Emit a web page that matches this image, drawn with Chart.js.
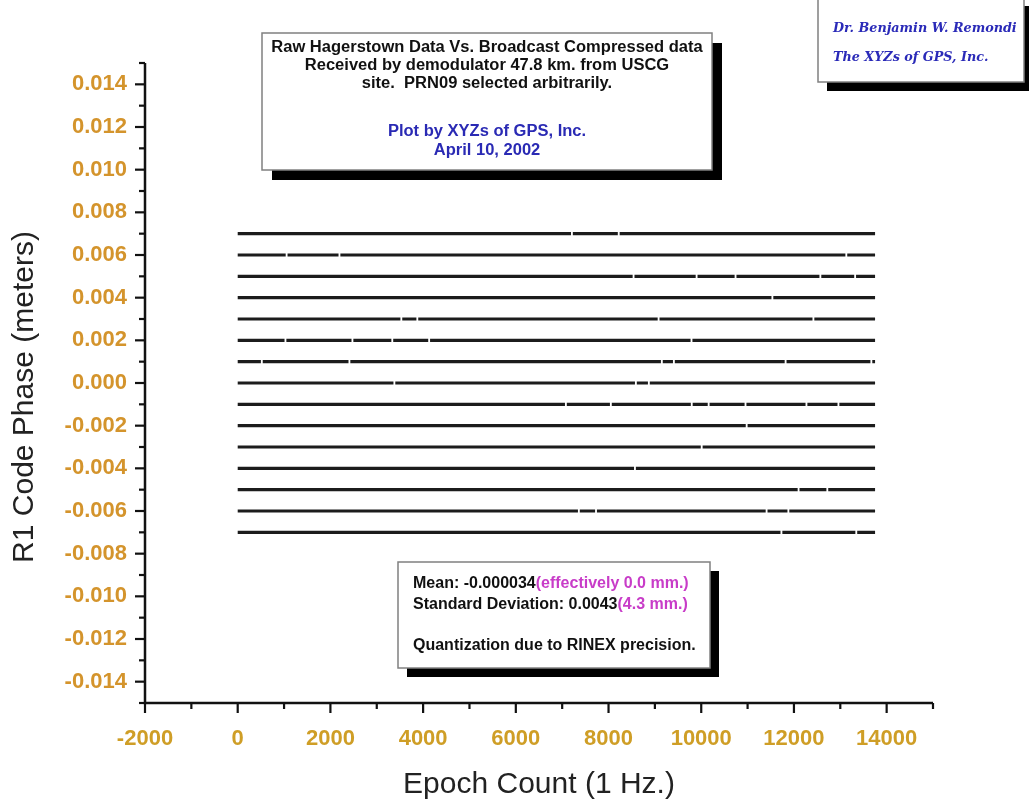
<!DOCTYPE html>
<html><head><meta charset="utf-8">
<script src="https://cdn.jsdelivr.net/npm/chart.js@4.4.1/dist/chart.umd.min.js"></script>
<style>html,body{margin:0;padding:0;background:#fff}#wrap{width:1029px;height:800px;position:relative}</style>
</head><body><div id="wrap"><canvas id="c"></canvas></div>
<script>
// Quantized code-phase levels (meters)
const levels = [0.007, 0.006, 0.005, 0.004, 0.003, 0.002, 0.001, 0.000, -0.001, -0.002, -0.003, -0.004, -0.005, -0.006, -0.007];
const epochStart = 0;
const epochEnd = 13750;
// approximate epochs where small data dropouts appear on each level line
const gaps007 = [7210, 8220];
const gaps006 = [1055, 2195, 13130];
const gaps005 = [8540, 9900, 10740, 12570, 13320];
const gaps004 = [11535];
const gaps003 = [3530, 3875, 9080, 12420];
const gaps002 = [1030, 2475, 3335, 4130, 9790];
const gaps001 = [520, 2410, 9150, 9410, 11820, 13670];
const gaps000 = [3380, 8590, 8870];
const gapsM001 = [7080, 8050, 9795, 10160, 10955, 12270, 12960];
const gapsM002 = [10980];
const gapsM003 = [10010];
const gapsM004 = [8570];
const gapsM005 = [12100, 12720];
const gapsM006 = [7360, 7730, 11410, 11880];
const gapsM007 = [11730, 13345];
const gapLists = [gaps007, gaps006, gaps005, gaps004, gaps003, gaps002, gaps001, gaps000, gapsM001, gapsM002, gapsM003, gapsM004, gapsM005, gapsM006, gapsM007];
const xMin = -2000, xMax = 15000, xStep = 1000, xLabelEvery = 2000;
const yMin = -0.015, yMax = 0.015, yStep = 0.001, yLabelEvery = 2;

const xTitle = 'Epoch Count (1 Hz.)';
const yTitle = 'R1 Code Phase (meters)';
const titleLines = ["Raw Hagerstown Data Vs. Broadcast Compressed data", "Received by demodulator 47.8 km. from USCG", "site.  PRN09 selected arbitrarily."];
const creditLines = ["Plot by XYZs of GPS, Inc.", "April 10, 2002"];
const authorLines = ["Dr. Benjamin W. Remondi", "The XYZs of GPS, Inc."];
const statsLines = [
  [["Mean: -0.000034", "#111"], ["(effectively 0.0 mm.)", "#c83cc8"]],
  [["Standard Deviation: 0.0043", "#111"], ["(4.3 mm.)", "#c83cc8"]],
  [],
  [["Quantization due to RINEX precision.", "#111"]]
];

const GAP_HALF = 20;
const datasets = levels.map((lv, i) => {
  const pts = [{x: epochStart, y: lv}];
  gapLists[i].forEach(g => {
    pts.push({x: g - GAP_HALF, y: lv});
    pts.push({x: g, y: null});
    pts.push({x: g + GAP_HALF, y: lv});
  });
  pts.push({x: epochEnd, y: lv});
  return {data: pts, borderColor: '#1c1c1c', borderWidth: 3.2, pointRadius: 0, spanGaps: false, tension: 0, borderCapStyle: 'butt'};
});

const TICK_COLOR_Y = '#d4942c';
const TICK_COLOR_X = '#cf9e26';
const FONT = "'Liberation Sans', Arial, sans-serif";

function fitSize(ctx, text, target, weight, style, family) {
  ctx.font = `${style} ${weight} 20px ${family}`;
  return 20 * target / ctx.measureText(text).width;
}
function drawBox(ctx, x, y, w, h, sh) {
  ctx.fillStyle = '#000';
  ctx.fillRect(x + sh, y + sh, w, h);
  ctx.fillStyle = '#fff';
  ctx.fillRect(x, y, w, h);
  ctx.strokeStyle = '#808080';
  ctx.lineWidth = 1.5;
  ctx.strokeRect(x, y, w, h);
}

const axesPlugin = {
  id: 'axesAndBoxes',
  afterDraw(chart) {
    const ctx = chart.ctx;
    const xs = chart.scales.x, ys = chart.scales.y;
    const L = xs.left, R = xs.right, T = ys.top, B = ys.bottom;
    ctx.save();
    ctx.strokeStyle = '#111';
    ctx.lineWidth = 2.5;
    ctx.beginPath();
    ctx.moveTo(L, T); ctx.lineTo(L, B); ctx.lineTo(R, B);
    ctx.stroke();
    ctx.lineWidth = 2.2;
    for (let k = Math.round(yMin / yStep); k <= Math.round(yMax / yStep); k++) {
      const p = ys.getPixelForValue(k * yStep);
      const len = (k % yLabelEvery === 0) ? 10 : 6;
      ctx.beginPath(); ctx.moveTo(L - len, p); ctx.lineTo(L, p); ctx.stroke();
    }
    for (let v = xMin; v <= xMax; v += xStep) {
      const p = xs.getPixelForValue(v);
      const len = (v % xLabelEvery === 0) ? 10 : 6;
      ctx.beginPath(); ctx.moveTo(p, B); ctx.lineTo(p, B + len); ctx.stroke();
    }
    // y-axis title
    ctx.save();
    ctx.translate(25, 397);
    ctx.rotate(-Math.PI / 2);
    ctx.textAlign = 'center';
    ctx.textBaseline = 'middle';
    ctx.fillStyle = '#222';
    ctx.font = `30px ${FONT}`;
    ctx.fillText(yTitle, 0, 0);
    ctx.restore();
    // Title box
    drawBox(ctx, 262, 33, 450, 137, 10);
    ctx.textAlign = 'center';
    ctx.textBaseline = 'middle';
    const ts = fitSize(ctx, titleLines[0], 432, 'bold', 'normal', FONT);
    ctx.font = `bold ${ts}px ${FONT}`;
    ctx.fillStyle = '#111';
    const tY = [47, 65, 83];
    titleLines.forEach((t, i) => ctx.fillText(t, 487, tY[i]));
    ctx.fillStyle = '#2a2ab4';
    const cY = [131, 150];
    creditLines.forEach((t, i) => ctx.fillText(t, 487, cY[i]));
    // Author box
    drawBox(ctx, 818, -3, 206, 85, 9);
    ctx.textAlign = 'left';
    const as = fitSize(ctx, authorLines[0], 184, 'bold', 'italic', "'DejaVu Serif', serif");
    ctx.font = `italic bold ${as}px 'DejaVu Serif', serif`;
    ctx.fillStyle = '#2a2ab8';
    ctx.fillText(authorLines[0], 833, 29);
    ctx.fillText(authorLines[1], 833, 58);
    // Stats box
    drawBox(ctx, 398, 562, 312, 106, 9);
    const ss = fitSize(ctx, statsLines[3][0][0], 283, 'bold', 'normal', FONT);
    ctx.font = `bold ${ss}px ${FONT}`;
    const sY = [584, 605, 625, 646];
    statsLines.forEach((parts, i) => {
      let x = 413;
      parts.forEach(([txt, col]) => {
        ctx.fillStyle = col;
        ctx.fillText(txt, x, sY[i]);
        x += ctx.measureText(txt).width;
      });
    });
    ctx.restore();
  }
};

new Chart(document.getElementById('c'), {
  type: 'line',
  data: {datasets},
  plugins: [axesPlugin],
  options: {
    responsive: true,
    maintainAspectRatio: false,
    animation: false,
    events: [],
    layout: {padding: {left: 8, right: 96, top: 63, bottom: 0}},
    plugins: {legend: {display: false}, tooltip: {enabled: false}},
    scales: {
      x: {
        type: 'linear', min: xMin, max: xMax,
        grid: {display: false, drawTicks: false},
        border: {display: false},
        ticks: {
          stepSize: xStep, autoSkip: false, maxRotation: 0, padding: 23,
          color: TICK_COLOR_X, font: {family: FONT, size: 22, weight: 'bold'},
          callback: v => (v % xLabelEvery === 0 && v < xMax) ? String(v) : ''
        },
        title: {display: true, text: xTitle, color: '#222', font: {family: FONT, size: 30, lineHeight: 1}, padding: {top: 0, bottom: 0}},
        afterFit: s => { s.height = 97; }
      },
      y: {
        type: 'linear', min: yMin, max: yMax,
        grid: {display: false, drawTicks: false},
        border: {display: false},
        ticks: {
          stepSize: yStep, autoSkip: false, padding: 18,
          color: TICK_COLOR_Y, font: {family: FONT, size: 22, weight: 'bold'},
          callback: v => { const k = Math.round(v / yStep); return (k % yLabelEvery === 0 && Math.abs(k) < 15) ? (k * yStep).toFixed(3) : ''; }
        },
        afterFit: s => { s.width = 137; }
      }
    }
  }
});
</script>
</body></html>
